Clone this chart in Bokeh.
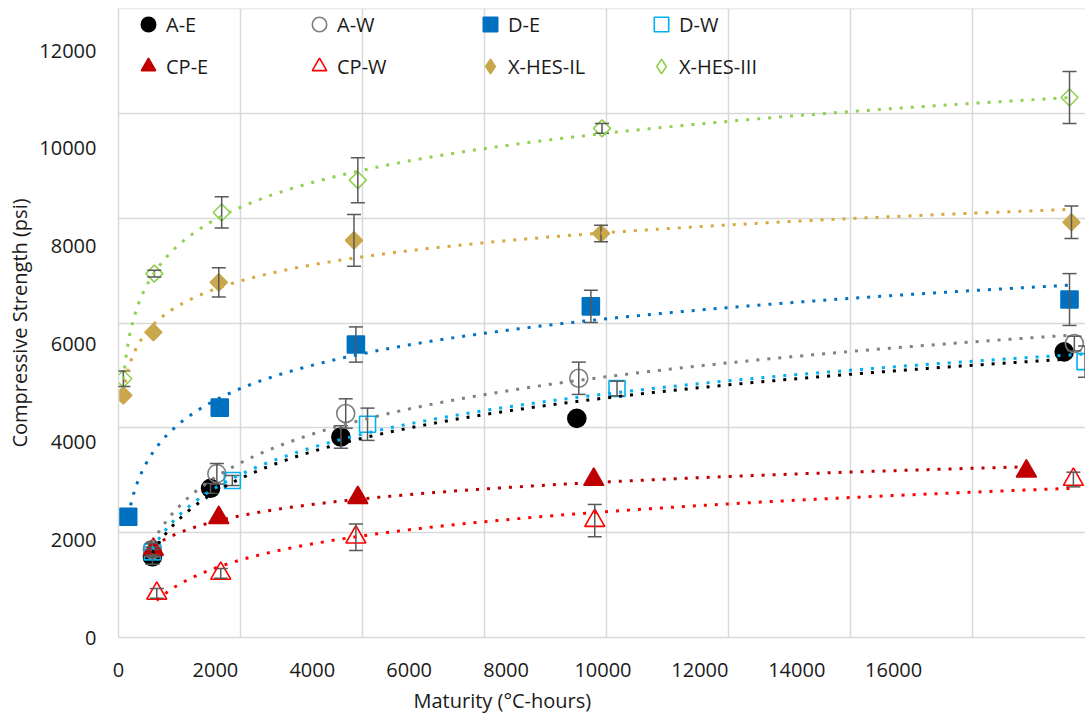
import numpy as np
from bokeh.plotting import figure
from bokeh.models import (Range1d, FixedTicker, Whisker, ColumnDataSource, Legend,
                          LegendItem, Title, TeeHead)
from bokeh.embed import file_html
from bokeh.resources import INLINE

# ---------------- data ----------------
SERIES = ["A-E", "A-W", "D-E", "D-W", "CP-E", "CP-W", "X-HES-IL", "X-HES-III"]

AE_X = [700, 1900, 4590, 9460, 19520]
AE_Y = [1650, 3050, 4100, 4480, 5840]
AE_ERR = [150, 100, 230, 0, 0]

AW_X = [700, 2030, 4690, 9500, 19730]
AW_Y = [1800, 3350, 4580, 5300, 6010]
AW_ERR = [120, 210, 300, 330, 150]

DE_X = [200, 2090, 4900, 9750, 19630]
DE_Y = [2470, 4700, 5990, 6770, 6910]
DE_ERR = [0, 0, 360, 330, 530]

DW_X = [700, 2350, 5140, 10290, 19950]
DW_Y = [1750, 3210, 4360, 5090, 5640]
DW_ERR = [100, 100, 330, 150, 320]

CPE_X = [720, 2070, 4940, 9810, 18740]
CPE_Y = [1800, 2450, 2860, 3230, 3400]
CPE_ERR = [150, 0, 0, 0, 0]

CPW_X = [790, 2110, 4900, 9830, 19710]
CPW_Y = [900, 1310, 2050, 2390, 3230]
CPW_ERR = [100, 100, 270, 330, 150]

XIL_X = [100, 720, 2070, 4860, 9960, 19670]
XIL_Y = [4950, 6240, 7260, 8120, 8260, 8490]
XIL_ERR = [0, 0, 300, 530, 170, 330]

XIII_X = [100, 740, 2130, 4940, 9980, 19630]
XIII_Y = [5290, 7440, 8690, 9350, 10410, 11040]
XIII_ERR = [160, 70, 320, 460, 100, 530]

X_TICKS = list(range(0, 16001, 2000))
Y_TICKS = list(range(0, 12001, 2000))

DATA = {
    "A-E": (AE_X, AE_Y, AE_ERR),
    "A-W": (AW_X, AW_Y, AW_ERR),
    "D-E": (DE_X, DE_Y, DE_ERR),
    "D-W": (DW_X, DW_Y, DW_ERR),
    "CP-E": (CPE_X, CPE_Y, CPE_ERR),
    "CP-W": (CPW_X, CPW_Y, CPW_ERR),
    "X-HES-IL": (XIL_X, XIL_Y, XIL_ERR),
    "X-HES-III": (XIII_X, XIII_Y, XIII_ERR),
}

# ---------------- styles ----------------
STYLE = {
    "A-E": dict(marker="circle", size=18, fill_color="black", line_color="black", angle=0),
    "A-W": dict(marker="circle", size=18, fill_color=None, line_color="#7F7F7F", angle=0),
    "D-E": dict(marker="square", size=17, fill_color="#0070C0", line_color="#0070C0", angle=0),
    "D-W": dict(marker="square", size=16, fill_color=None, line_color="#00B0F0", angle=0),
    "CP-E": dict(marker="triangle", size=20, fill_color="#C00000", line_color="#C00000", angle=0),
    "CP-W": dict(marker="triangle", size=20, fill_color=None, line_color="#FF0000", angle=0),
    "X-HES-IL": dict(marker="square", size=12, fill_color="#C9A74C", line_color="#C9A74C", angle=np.pi / 4),
    "X-HES-III": dict(marker="square", size=12, fill_color="white", line_color="#92D050", angle=np.pi / 4),
}
TREND = {
    "A-E": "black", "A-W": "#808080", "D-E": "#0070C0", "D-W": "#00B0F0",
    "CP-E": "#C00000", "CP-W": "#FF0000", "X-HES-IL": "#D6A93E", "X-HES-III": "#92D050",
}

FONT = "Open Sans"
TXT = "#1A1A1A"
GRID = "#D9D9D9"

X_END = 19960
Y_END = 12860
XGRID_STEP = 2518
YGRID_STEP = 2143.3

p = figure(width=1085, height=719, output_backend="svg", toolbar_location=None,
           x_range=Range1d(0, X_END), y_range=Range1d(0, Y_END),
           min_border_left=118, min_border_right=0, min_border_top=8, min_border_bottom=82,
           background_fill_color="white", border_fill_color="white",
           outline_line_color=None)

# axes
for ax in (p.xaxis[0], p.yaxis[0]):
    ax.axis_line_color = GRID
    ax.axis_line_width = 1.5
    ax.major_tick_line_color = None
    ax.minor_tick_line_color = None
    ax.major_tick_out = 0
    ax.major_tick_in = 0
    ax.major_label_text_font = FONT
    ax.major_label_text_font_size = "20px"
    ax.major_label_text_color = TXT
    ax.axis_label_text_font = FONT
    ax.axis_label_text_font_size = "20px"
    ax.axis_label_text_font_style = "normal"
    ax.axis_label_text_color = TXT

p.xaxis.ticker = FixedTicker(ticks=X_TICKS)
p.yaxis.ticker = FixedTicker(ticks=Y_TICKS)
p.xaxis.major_label_standoff = 25
p.yaxis.major_label_standoff = 22
p.yaxis.axis_label = "Compressive Strength (psi)"
p.yaxis.axis_label_standoff = 3

xt = Title(text="Maturity (°C-hours)", align="left", offset=295,
           text_font=FONT, text_font_size="20px", text_font_style="normal",
           text_color=TXT, standoff=11)
p.add_layout(xt, "below")

# grid
p.xgrid.ticker = FixedTicker(ticks=[XGRID_STEP * k for k in range(1, 8)])
p.ygrid.ticker = FixedTicker(ticks=[YGRID_STEP * k for k in range(1, 7)])
p.xgrid.grid_line_color = GRID
p.ygrid.grid_line_color = GRID
p.xgrid.grid_line_width = 1.5
p.ygrid.grid_line_width = 1.5
p.xgrid.bounds = (0, 11300)

# markers
items = []
for name in SERIES:
    xs, ys, errs = DATA[name]
    st = STYLE[name]
    src = ColumnDataSource(dict(x=xs, y=ys))
    legend_r = None
    if st["angle"]:
        # plain diamond underneath (hidden by the rotated square); it supplies the legend symbol
        legend_r = p.scatter("x", "y", source=src, marker="diamond", size=13,
                             fill_color=STYLE[name]["fill_color"] if name == "X-HES-IL" else None,
                             line_color=st["line_color"], line_width=1.6)
    r = p.scatter("x", "y", source=src, marker=st["marker"], size=st["size"],
                  fill_color=st["fill_color"], line_color=st["line_color"],
                  line_width=1.6, angle=st["angle"])
    items.append(LegendItem(label=name, renderers=[legend_r or r]))

# error bars
for name in SERIES:
    xs, ys, errs = DATA[name]
    keep = [i for i, e in enumerate(errs) if e > 0]
    if not keep:
        continue
    src = ColumnDataSource(dict(
        x=[xs[i] for i in keep],
        upper=[ys[i] + errs[i] for i in keep],
        lower=[ys[i] - errs[i] for i in keep]))
    w = Whisker(source=src, base="x", upper="upper", lower="lower", dimension="height",
                line_color="#595959", line_width=1.5, level="annotation",
                upper_head=TeeHead(size=14, line_color="#595959", line_width=1.5),
                lower_head=TeeHead(size=14, line_color="#595959", line_width=1.5))
    p.add_layout(w)

# logarithmic trendlines (least-squares fit of y on ln x, as in the source chart)
for name in SERIES:
    xs, ys, errs = DATA[name]
    xa = np.asarray(xs, float)
    a, b = np.polyfit(np.log(xa), np.asarray(ys, float), 1)
    tx = np.linspace(xa.min(), xa.max(), 300)
    ty = a * np.log(tx) + b
    p.line(tx, ty, line_color=TREND[name], line_width=3, line_dash="3 8",
           line_cap="butt", level="overlay")

legend = Legend(items=items, orientation="horizontal", ncols=4,
                location=(12, 553), margin=0, padding=0, spacing=6,
                glyph_width=36, glyph_height=36, label_standoff=-3, label_width=129,
                label_text_font=FONT, label_text_font_size="20px", label_text_color=TXT,
                border_line_color=None, background_fill_alpha=0)
p.add_layout(legend)

open("out.html", "w").write(file_html(p, INLINE))
